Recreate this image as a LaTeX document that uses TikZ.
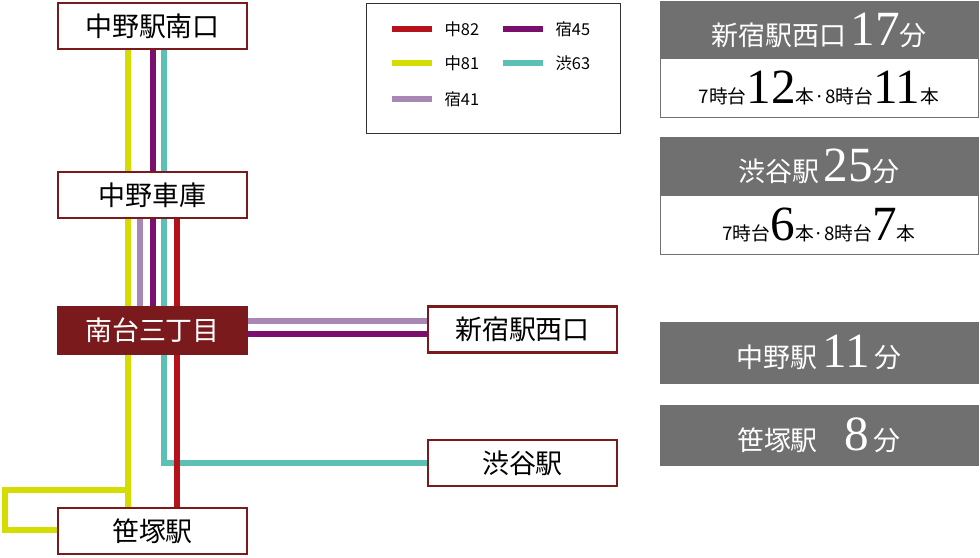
\documentclass[tikz,border=0pt]{standalone}
\usepackage{fontspec}
\setmainfont{Liberation Serif}
\newfontfamily\jpfont{Noto Sans CJK JP}
\usepackage{tikz}

\definecolor{frame}{HTML}{7A1A1C}
\definecolor{c82}{HTML}{B5121B}
\definecolor{c81}{HTML}{D4DC00}
\definecolor{c41}{HTML}{A887B4}
\definecolor{c45}{HTML}{7A0F6E}
\definecolor{c63}{HTML}{5CC0B4}
\definecolor{panel}{HTML}{707070}

\tikzset{
  stop/.style={draw=frame, line width=2.5pt, fill=white, minimum width=189*0.03cm, minimum height=46*0.03cm, inner sep=0pt, font=\jpfont\fontsize{23}{23}\selectfont},
  hub/.style={stop, fill=frame, text=white},
  route/.style={line width=4.5pt},
  gray box/.style={fill=panel, draw=panel, minimum width=318*0.03cm, minimum height=58*0.03cm, inner sep=0pt, text=white, font=\jpfont\fontsize{23}{23}\selectfont},
  time box/.style={draw=panel, line width=0.8pt, fill=white, minimum width=318*0.03cm, minimum height=59*0.03cm, inner sep=0pt, font=\jpfont\fontsize{16}{16}\selectfont},
  key/.style={anchor=west, font=\jpfont\fontsize{14}{14}\selectfont}
}
\newcommand{\bignum}[1]{{\rmfamily\fontsize{42}{42}\selectfont #1}}

\begin{document}
\begin{tikzpicture}[x=0.03cm, y=-0.03cm]
		\useasboundingbox (0,0) rectangle (980,557);

		% routes
		\draw[route, c81] (128,49) -- (128,507);
		\draw[route, c81] (128,490) -- (5,490) -- (5,530) -- (58,530);
		\draw[route, c45] (153,49) -- (153,334) -- (428,334);
		\draw[route, c41] (140,219) -- (140,321) -- (428,321);
		\draw[route, c63] (164,49) -- (164,463) -- (428,463);
		\draw[route, c82] (177,219) -- (177,507);

		% stops
		\node[stop] (nakanoS) at (152.5,26) {中野駅南口};
		\node[stop] (garage) at (152.5,195) {中野車庫};
		\node[hub] (minamidai) at (152.5,330.5) {南台三丁目};
		\node[stop] (sasazuka) at (152.5,531) {笹塚駅};
		\node[stop] (shinjuku) at (522.5,329.5) {新宿駅西口};
		\node[stop] (shibuya) at (522.5,463) {渋谷駅};

		% legend
		\draw[line width=0.6pt, black!80] (366,3) rectangle (620,133);
		\draw[route, c82] (392,29) -- (432,29) node[key, black] at (438,29) {中82};
		\draw[route, c81] (392,63) -- (432,63) node[key, black] at (438,63) {中81};
		\draw[route, c41] (392,99) -- (432,99) node[key, black] at (438,99) {宿41};
		\draw[route, c45] (503,29) -- (543,29) node[key, black] at (549,29) {宿45};
		\draw[route, c63] (503,63) -- (543,63) node[key, black] at (549,63) {渋63};

		% travel times
		\node[gray box] (tShinjuku) at (819,30) {新宿駅西口\,\bignum{17}分};
		\node[time box] (fShinjuku) at (819,88) {7時台\bignum{12}本·8時台\bignum{11}本};
		\node[gray box] (tShibuya) at (819,166) {渋谷駅\,\bignum{25}分};
		\node[time box] (fShibuya) at (819,225) {7時台\bignum{6}本·8時台\bignum{7}本};
		\node[gray box, minimum height=61*0.03cm] (tNakano) at (819,352.5) {中野駅\,\bignum{11}\,分};
		\node[gray box, minimum height=60*0.03cm] (tSasazuka) at (819,435) {笹塚駅\quad\bignum{8}\,分};
	\end{tikzpicture}
\end{document}
